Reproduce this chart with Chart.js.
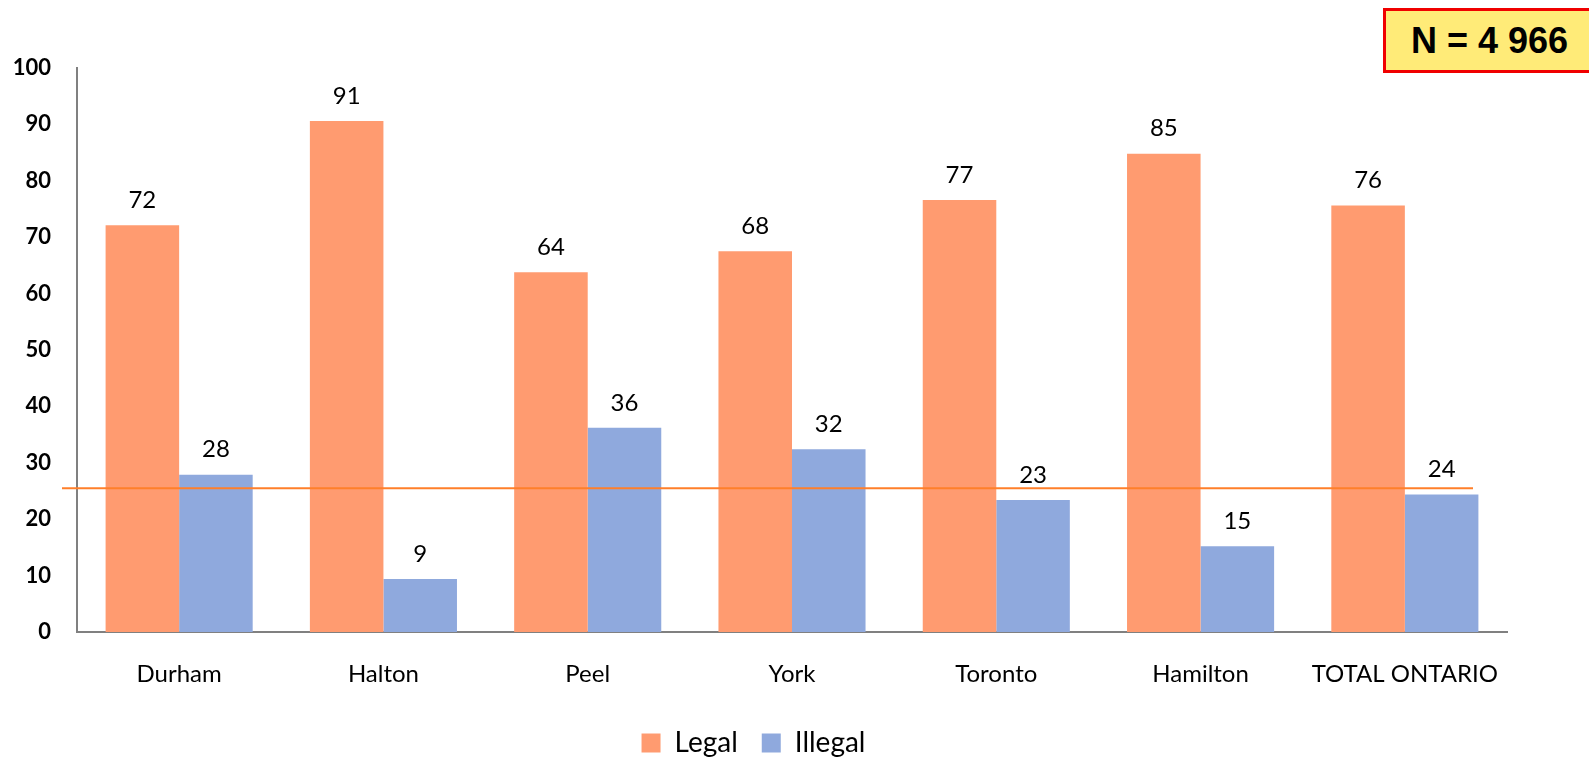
<!DOCTYPE html>
<html>
<head>
<meta charset="utf-8">
<script src="https://cdn.jsdelivr.net/npm/chart.js@4"></script>
<style>
  html, body { margin: 0; padding: 0; background: #fff; }
  #wrap { position: relative; width: 1589px; height: 758px; overflow: hidden; }
  #nbox {
    position: absolute; left: 1383px; top: 8px; width: 230px; height: 59px;
    background: #FFEB78; border: 3px solid #F00000;
    font-family: "Liberation Sans", Arial, sans-serif; font-weight: bold; font-size: 36px;
    line-height: 59px; box-sizing: content-box; padding-left: 25px; color: #000;
  }
</style>
</head>
<body>
<div id="wrap">
  <canvas id="chart" width="1589" height="758"></canvas>
  <div id="nbox">N = 4 966</div>
</div>
<script>
// Catégories et séries
const regions = ['Durham', 'Halton', 'Peel', 'York', 'Toronto', 'Hamilton', 'TOTAL ONTARIO'];
const legalValues = [72.1, 90.6, 63.8, 67.5, 76.6, 84.8, 75.6];
const illegalValues = [27.9, 9.4, 36.2, 32.4, 23.4, 15.2, 24.4];
const yTicks = [0, 10, 20, 30, 40, 50, 60, 70, 80, 90, 100];
const referenceValue = 25.5;

const orange = '#FF9B70';
const blue = '#8FA9DD';

// Étiquettes de valeurs au-dessus des barres
const valueLabels = {
    id: 'valueLabels',
    afterDatasetsDraw(chart) {
        const ctx = chart.ctx;
        ctx.save();
        ctx.font = '24px Lato';
        ctx.fillStyle = '#000';
        ctx.textAlign = 'center';
        ctx.textBaseline = 'middle';
        chart.data.datasets.forEach((ds, i) => {
            chart.getDatasetMeta(i).data.forEach((bar, j) => {
                ctx.fillText(Math.round(ds.data[j]), bar.x, bar.y - 25);
            });
        });
        ctx.restore();
    }
};

// Ligne de référence horizontale
const referenceLine = {
    id: 'referenceLine',
    afterDatasetsDraw(chart) {
        const ctx = chart.ctx;
        const y = chart.scales.y.getPixelForValue(referenceValue);
        ctx.save();
        ctx.strokeStyle = '#FF7F2A';
        ctx.lineWidth = 2;
        ctx.beginPath();
        ctx.moveTo(chart.chartArea.left - 15, y);
        ctx.lineTo(chart.chartArea.right - 34, y);
        ctx.stroke();
        ctx.restore();
    }
};

const ctx = document.getElementById('chart').getContext('2d');
new Chart(ctx, {
    type: 'bar',
    data: {
        labels: regions,
        datasets: [
            { label: 'Legal', data: legalValues, backgroundColor: orange },
            { label: 'Illegal', data: illegalValues, backgroundColor: blue }
        ]
    },
    options: {
        responsive: false,
        animation: false,
        datasets: { bar: { categoryPercentage: 0.72, barPercentage: 1.0 } },
        layout: { padding: { top: 68, right: 82, left: 0, bottom: -9 } },
        scales: {
            x: {
                afterFit(scale) { scale.height = 73; },
                grid: { display: false, drawTicks: false },
                border: { color: '#808080', width: 2 },
                ticks: { color: '#000', font: { family: 'Lato', size: 24 }, padding: 28, maxRotation: 0 }
            },
            y: {
                min: 0, max: 100,
                afterFit(scale) { scale.width = 77; },
                afterBuildTicks(scale) { scale.ticks = yTicks.map(v => ({ value: v })); },
                grid: { display: false, drawTicks: false },
                border: { color: '#808080', width: 2 },
                ticks: { color: '#000', font: { family: 'Lato', size: 22, weight: 'bold' }, padding: 26 }
            }
        },
        plugins: {
            legend: {
                position: 'bottom',
                labels: {
                    color: '#000',
                    font: { family: 'Lato', size: 28 },
                    boxWidth: 19, boxHeight: 19, padding: 24
                }
            },
            tooltip: { enabled: false }
        }
    },
    plugins: [valueLabels, referenceLine]
});
</script>
</body>
</html>
